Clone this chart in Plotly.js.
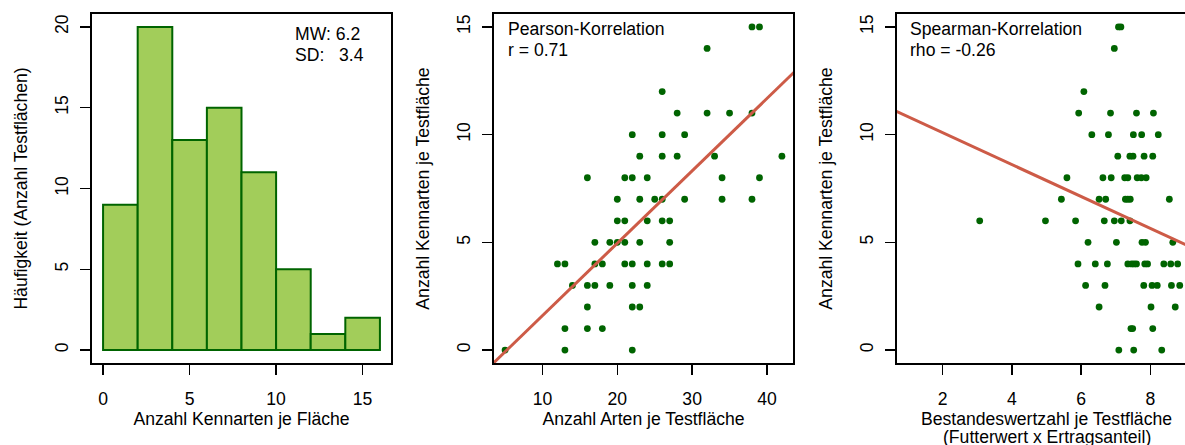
<!DOCTYPE html>
<html>
<head>
<meta charset="utf-8">
<script src="https://cdn.plot.ly/plotly-3.0.1.min.js"></script>
<style>
html, body { margin:0; padding:0; overflow:hidden; background:#fff; }
#chart { width:1207px; height:445px; }
</style>
</head>
<body>
<div id="chart"></div>
<script>
// ---- Data ----
// Panel 1: histogram of Kennarten per plot
const histBinEdges = [0, 2, 4, 6, 8, 10, 12, 14, 16];
const histCounts = [9, 20, 13, 15, 11, 5, 1, 2];
const histXTicks = [0, 5, 10, 15];
const histYTicks = [0, 5, 10, 15, 20];
const histStats = ["MW: 6.2", "SD:\u00A0\u00A0\u00A03.4"];

// Panel 2: Anzahl Arten (x) vs Anzahl Kennarten (y)
const artenX = [38, 39, 32, 26, 28, 32, 35, 38, 22, 26, 29,
  23, 26, 28, 33, 42, 16, 21, 22, 24, 34, 39,
  20, 23, 25, 26, 29, 34, 38, 20, 21, 24, 26, 27,
  17, 19, 20, 21, 23, 27, 12, 13, 17, 18, 21, 22, 24, 26, 27,
  14, 16, 17, 19, 22, 24, 16, 22, 23, 13, 16, 18, 5, 13, 22];
const kennartenY2 = [15, 15, 14, 12, 11, 11, 11, 11, 10, 10, 10,
  9, 9, 9, 9, 9, 8, 8, 8, 8, 8, 8,
  7, 7, 7, 7, 7, 7, 7, 6, 6, 6, 6, 6,
  5, 5, 5, 5, 5, 5, 4, 4, 4, 4, 4, 4, 4, 4, 4,
  3, 3, 3, 3, 3, 3, 2, 2, 2, 1, 1, 1, 0, 0, 0];
const pearsonFit = { intercept: -1.76, slope: 0.336 };
const pearsonText = ["Pearson-Korrelation", "r = 0.71"];
const artenXTicks = [10, 20, 30, 40];
const kennYTicks = [0, 5, 10, 15];

// Panel 3: Bestandeswertzahl (x) vs Anzahl Kennarten (y)
const bwzX = [7.08, 7.15, 6.96, 6.08,
  5.93, 6.85, 7.60, 8.09,
  6.31, 6.79, 7.51, 7.75, 8.23,
  7.06, 7.41, 7.50, 7.82, 8.07,
  5.59, 6.63, 6.87, 7.26, 7.35, 7.62, 7.74, 7.88,
  5.43, 6.52, 6.71, 7.28, 7.35, 7.42, 8.55,
  3.07, 4.97, 5.84, 6.67, 6.96, 7.16, 7.41,
  6.20, 7.02, 7.76, 7.86, 8.65,
  5.91, 6.41, 6.76, 7.35, 7.46, 7.53, 7.60, 7.84, 7.92, 8.39, 8.59, 8.79,
  6.13, 6.69, 7.81, 8.05, 8.20, 8.61, 8.85,
  6.52, 8.02, 8.72,
  7.44, 7.49, 8.07,
  7.09, 7.52, 8.33];
const kennartenY3 = [15, 15, 14, 12,
  11, 11, 11, 11,
  10, 10, 10, 10, 10,
  9, 9, 9, 9, 9,
  8, 8, 8, 8, 8, 8, 8, 8,
  7, 7, 7, 7, 7, 7, 7,
  6, 6, 6, 6, 6, 6, 6,
  5, 5, 5, 5, 5,
  4, 4, 4, 4, 4, 4, 4, 4, 4, 4, 4, 4,
  3, 3, 3, 3, 3, 3, 3,
  2, 2, 2,
  1, 1, 1,
  0, 0, 0];
const spearmanFit = { intercept: 11.57, slope: -0.74 };
const spearmanText = ["Spearman-Korrelation", "rho = -0.26"];
const bwzXTicks = [2, 4, 6, 8];
const bwzTitle = ["Bestandeswertzahl je Testfläche", "(Futterwert x Ertragsanteil)"];

// ---- Styles ----
const F = "Liberation Sans, Arial, sans-serif";
const FS = 17.6;
const dotColor = "#006400";
const lineColor = "#CD5B47";
const barFill = "#A2CD5A";

const binCenters = histBinEdges.slice(0, -1).map((e, i) => (e + histBinEdges[i + 1]) / 2);
const binWidths = histBinEdges.slice(0, -1).map((e, i) => histBinEdges[i + 1] - e);

function fitLine(fit, x0, x1) {
  return { x: [x0, x1], y: [fit.intercept + fit.slope * x0, fit.intercept + fit.slope * x1] };
}
const pl = fitLine(pearsonFit, 0, 50);
const sl = fitLine(spearmanFit, 0, 10);

const traces = [
  { type: "bar", x: binCenters, y: histCounts, width: binWidths,
    marker: { color: barFill, line: { color: dotColor, width: 2 } },
    xaxis: "x", yaxis: "y", hoverinfo: "none" },
  { type: "scatter", mode: "markers", x: artenX, y: kennartenY2,
    marker: { color: dotColor, size: 6.8 }, xaxis: "x2", yaxis: "y2", hoverinfo: "none" },
  { type: "scatter", mode: "lines", x: pl.x, y: pl.y,
    line: { color: lineColor, width: 3 }, xaxis: "x2", yaxis: "y2", hoverinfo: "none" },
  { type: "scatter", mode: "markers", x: bwzX, y: kennartenY3,
    marker: { color: dotColor, size: 6.8 }, xaxis: "x3", yaxis: "y3", hoverinfo: "none" },
  { type: "scatter", mode: "lines", x: sl.x, y: sl.y,
    line: { color: lineColor, width: 3 }, xaxis: "x3", yaxis: "y3", hoverinfo: "none" }
];

const base = {
  showline: true, mirror: true, linecolor: "#000", linewidth: 1.7,
  ticks: "outside", ticklen: 10, tickwidth: 1.5, tickcolor: "#000",
  showgrid: false, zeroline: false, fixedrange: true,
  tickfont: { family: F, size: FS, color: "#000" }
};
function xax(domain, range, ticks, title, anchor) {
  return Object.assign({}, base, {
    domain: domain, range: range, tickmode: "array", tickvals: ticks,
    ticklabelstandoff: 9, anchor: anchor,
    title: { text: title, font: { family: F, size: FS, color: "#000" }, standoff: 4 }
  });
}
function yax(range, ticks, title, anchor) {
  return Object.assign({}, base, {
    range: range, tickmode: "array", tickvals: ticks, tickangle: -90,
    ticklabelstandoff: 5, anchor: anchor,
    title: { text: title, font: { family: F, size: FS, color: "#000" }, standoff: 20 }
  });
}

function txt(xref, yref, x, y, text, xanchor) {
  return { xref: xref, yref: yref, x: x, y: y, xanchor: xanchor || "left", yanchor: "middle",
    text: text, showarrow: false, font: { family: F, size: FS, color: "#000" } };
}

const layout = {
  width: 1207, height: 445,
  margin: { l: 92, r: 11, t: 14, b: 82 },
  paper_bgcolor: "#fff", plot_bgcolor: "#fff",
  showlegend: false, bargap: 0,
  xaxis: xax([0, 0.27083], [-0.64, 16.64], histXTicks, "Anzahl Kennarten je Fläche", "y"),
  yaxis: yax([-0.8, 20.8], histYTicks, "Häufigkeit (Anzahl Testflächen)", "x"),
  xaxis2: xax([0.36413, 0.63496], [3.52, 43.48], artenXTicks, "Anzahl Arten je Testfläche", "y2"),
  yaxis2: yax([-0.6, 15.6], kennYTicks, "Anzahl Kennarten je Testfläche", "x2"),
  xaxis3: xax([0.72917, 1], [0.68, 9.32], bwzXTicks, bwzTitle[0], "y3"),
  yaxis3: yax([-0.6, 15.6], kennYTicks, "Anzahl Kennarten je Testfläche", "x3"),
  annotations: [
    txt("x domain", "y domain", 0.672, 0.9427, histStats[0]),
    txt("x domain", "y domain", 0.672, 0.8825, histStats[1]),
    txt("x2 domain", "y2 domain", 0.040, 0.957, pearsonText[0]),
    txt("x2 domain", "y2 domain", 0.040, 0.8968, pearsonText[1]),
    txt("x3 domain", "y3 domain", 0.038, 0.957, spearmanText[0]),
    txt("x3 domain", "y3 domain", 0.038, 0.8968, spearmanText[1]),
    txt("x3 domain", "paper", 0.5, -0.2112, bwzTitle[1], "center")
  ]
};

Plotly.newPlot("chart", traces, layout, { displayModeBar: false, staticPlot: true });
</script>
</body>
</html>
